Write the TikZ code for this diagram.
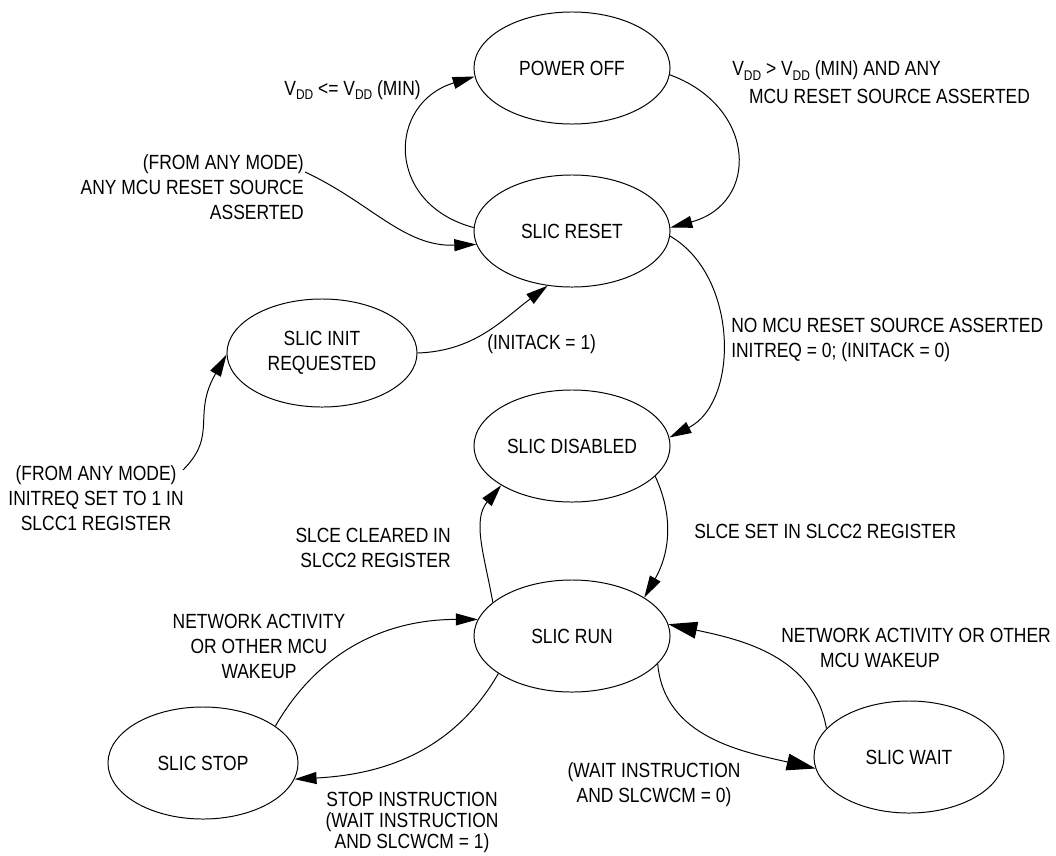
\documentclass[tikz,border=0pt]{standalone}
\usepackage{fontspec}
\setmainfont{Liberation Sans}[FakeStretch=0.85]
\usepackage{tikz}
\usetikzlibrary{shapes.geometric, arrows.meta, positioning}

\newcommand{\vdd}{V\raisebox{-3.5pt}{\fontsize{10}{10}\selectfont DD}}

\begin{document}
\begin{tikzpicture}[
    x=0.025cm, y=0.025cm,
    font=\fontsize{14.6}{17.8}\selectfont,
    state/.style = {ellipse, draw, line width=0.7pt, minimum width=4.9cm, minimum height=2.8cm, inner sep=0pt, align=center},
    smallstate/.style = {state, minimum width=4.75cm},
    note/.style = {inner sep=0pt},
    trans/.style = {-{Triangle[length=5.5mm,width=3mm]}, line width=0.7pt},
    bigtrans/.style = {trans, -{Triangle[length=7.2mm,width=4.2mm]}}
]
\useasboundingbox (0,0) rectangle (1056,-855);

% States
\node (poweroff) [state] at (572,-68) {POWER OFF};
\node (reset) [state] at (572,-231) {SLIC RESET};
\node (init) [smallstate, minimum height=2.7cm] at (322,-353) {SLIC INIT\\REQUESTED};
\node (disabled) [state] at (572,-446) {SLIC DISABLED};
\node (run) [state] at (572,-636) {SLIC RUN};
\node (stop) [smallstate] at (203,-763) {SLIC STOP};
\node (wait) [smallstate] at (909,-757) {SLIC WAIT};

% Labels
\node (vddlow) [note, anchor=base east] at (421,-95) {\vdd{} <= \vdd{} (MIN)};
\node (vddhigh) [note, anchor=base west, align=left] at (732,-103) {\vdd{} > \vdd{} (MIN) AND ANY\\[1.7pt]\hspace*{0.42cm}MCU RESET SOURCE ASSERTED};
\node (anyreset) [note, anchor=north east, align=right] at (304,-154) {(FROM ANY MODE)\\ANY MCU RESET SOURCE\\ASSERTED};
\node (initack) [note, anchor=base west] at (487,-349) {(INITACK = 1)};
\node (noreset) [note, anchor=north west, align=left] at (731,-318) {NO MCU RESET SOURCE ASSERTED\\INITREQ = 0; (INITACK = 0)};
\node (initreq) [note, anchor=north, align=center] at (96,-465) {(FROM ANY MODE)\\INITREQ SET TO 1 IN\\SLCC1 REGISTER};
\node (slceclr) [note, anchor=north east, align=right] at (451,-528) {SLCE CLEARED IN\\SLCC2 REGISTER};
\node (slceset) [note, anchor=base west] at (694,-538) {SLCE SET IN SLCC2 REGISTER};
\node (netstop) [note, anchor=north, align=center] at (259,-614) {NETWORK ACTIVITY\\OR OTHER MCU\\WAKEUP};
\node (stopinstr) [note, anchor=north, align=center, font=\fontsize{14.6}{14.9}\selectfont] at (412,-792) {STOP INSTRUCTION\\(WAIT INSTRUCTION\\AND SLCWCM = 1)};
\node (waitinstr) [note, anchor=north, align=center] at (654,-762) {(WAIT INSTRUCTION\\AND SLCWCM = 0)};
\node (netwait) [note, anchor=north west, align=left] at (781,-628) {NETWORK ACTIVITY OR OTHER\\\hspace*{0.97cm}MCU WAKEUP};

\coordinate (anyreset-out) at (305,-172);
\coordinate (initreq-out) at (183,-470);

% Transitions
\draw [trans] (reset.178) to[out=165, in=197, looseness=1.55] (poweroff.185);
\draw [trans] (poweroff.-4) to[out=-20, in=15, looseness=1.55] (reset.2);
\draw [trans] (anyreset-out) to[out=-25, in=182] (reset.188);
\draw [trans] (init.east) to[out=2, in=217] (reset.246);
\draw [trans] (reset.-3) to[out=-30, in=27] (disabled.5);
\draw [trans] (initreq-out) .. controls +(45:50) and +(240:70) .. (init.181);
\draw [trans] (run.157) to[out=100, in=230] (disabled.209);
\draw [trans] (disabled.340) to[out=-65, in=60] (run.28);
\draw [trans] (stop.27) to[out=60, in=180] (run.170);
\draw [trans] (run.207) to[out=240, in=3] (stop.350);
\draw [bigtrans] (run.342) to[out=-85, in=167] (wait.187);
\draw [bigtrans] (wait.161) to[out=100, in=-12] (run.7);

\end{tikzpicture}
\end{document}
